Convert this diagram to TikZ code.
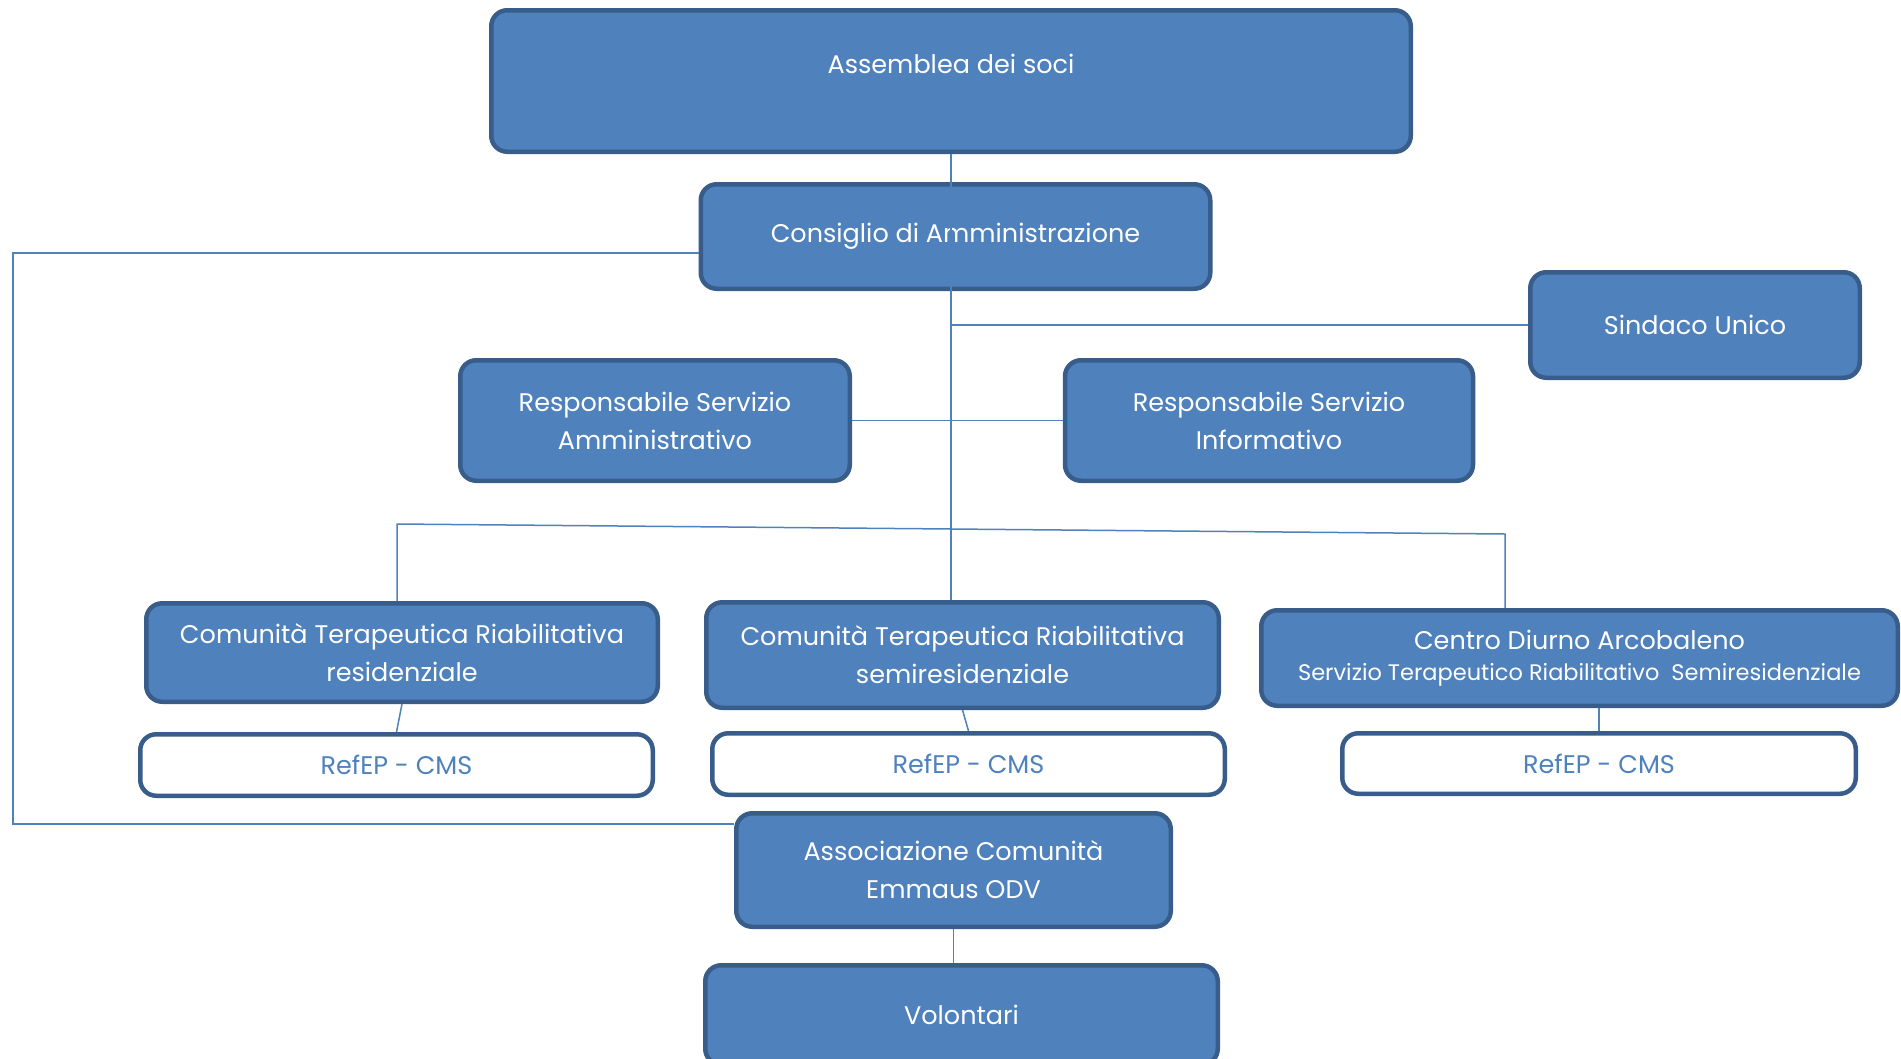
\documentclass[tikz,border=0pt]{standalone}
\usepackage{fontspec}
\setmainfont{Poppins}
\definecolor{boxblue}{HTML}{4F81BD}
\definecolor{edgeblue}{HTML}{385D8A}

\begin{document}
\begin{tikzpicture}[x=1pt,y=-1pt,
    orgbox/.style={draw=edgeblue,line width=4.5pt,fill=boxblue,rounded corners=16pt,
        text=white,align=center,inner sep=0pt,font=\fontsize{25.5}{38}\selectfont},
    refbox/.style={orgbox,fill=white,text=boxblue},
    link/.style={draw=boxblue,line width=1.5pt}]
    \useasboundingbox (0,0) rectangle (1901,1058);

    \node[orgbox,minimum width=919.5pt,minimum height=141.5pt] (ass) at (951,81) {\raisebox{7.5pt}[0pt][0pt]{Assemblea dei soci}};
    \node[orgbox,minimum width=509.5pt,minimum height=104.5pt] (cons) at (955.5,236.5) {Consiglio di Amministrazione};
    \node[orgbox,minimum width=329.5pt,minimum height=105.5pt] (sind) at (1695,325) {Sindaco Unico};
    \node[orgbox,minimum width=389.5pt,minimum height=120.5pt] (ramm) at (655,420.5) {Responsabile Servizio\\Amministrativo};
    \node[orgbox,minimum width=408pt,minimum height=120.5pt] (rinf) at (1269,420.5) {Responsabile Servizio\\Informativo};
    \node[orgbox,minimum width=511.5pt,minimum height=98.5pt] (ctrr) at (402,652.5) {Comunità Terapeutica Riabilitativa\\residenziale};
    \node[orgbox,minimum width=512.5pt,minimum height=105.5pt] (ctrs) at (962.5,655) {Comunità Terapeutica Riabilitativa\\semiresidenziale};
    \node[orgbox,minimum width=636.5pt,minimum height=95.5pt] (cda) at (1579.5,658) {Centro Diurno Arcobaleno\\[-6.5pt]{\fontsize{22.5}{30}\selectfont Servizio Terapeutico Riabilitativo\ \ Semiresidenziale}};
    \node[refbox,minimum width=512.5pt,minimum height=61.5pt] (ref1) at (396.5,765) {RefEP - CMS};
    \node[refbox,minimum width=512.5pt,minimum height=61.5pt] (ref2) at (968.5,764) {RefEP - CMS};
    \node[refbox,minimum width=513.5pt,minimum height=60.5pt] (ref3) at (1599,763.5) {RefEP - CMS};
    \node[orgbox,minimum width=434.5pt,minimum height=113.5pt] (assoc) at (953.5,870) {Associazione Comunità\\Emmaus ODV};
    \node[orgbox,minimum width=512.5pt,minimum height=99.5pt] (vol) at (961.5,1015) {Volontari};

    \coordinate (busl) at (397,524);
    \coordinate (busr) at (1505,534);
    \coordinate (loopt) at (13,253);
    \coordinate (loopb) at (13,824);

    \draw[link] (ass.south) -- (ass.south |- ctrs.north);
    \draw[link] (ass.south |- sind.west) -- (sind.west);
    \draw[link] (ramm.east) -- (rinf.west);
    \draw[link] (busl |- ctrr.north) -- (busl) -- (busr) -- (busr |- cda.north);
    \draw[link] (cons.west |- loopt) -- (loopt) -- (loopb) -- (assoc.west |- loopb);
    \draw[link] (ctrr.south) -- (ref1.north);
    \draw[link] (ctrs.south) -- (ref2.north);
    \draw[link] (ref3.north |- cda.south) -- (ref3.north);
    \draw[link] (assoc.south) -- (assoc.south |- vol.north);
\end{tikzpicture}
\end{document}
